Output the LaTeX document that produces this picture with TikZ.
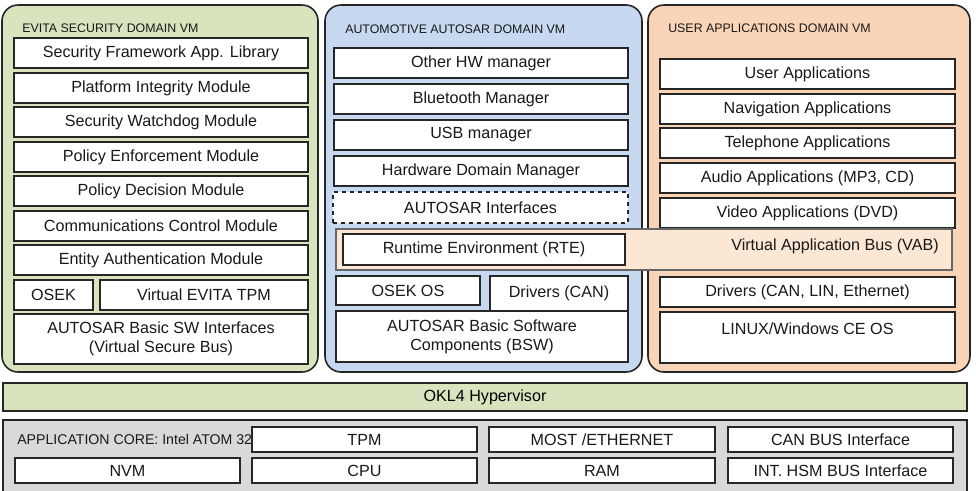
\documentclass[tikz,border=0pt]{standalone}
\usepackage{fontspec}
\setmainfont{Liberation Sans}
\definecolor{evgreen}{HTML}{D7E4BD}
\definecolor{aublue}{HTML}{C6D9F1}
\definecolor{usorange}{HTML}{FAD4B6}
\definecolor{bandor}{HTML}{FCE6D4}
\definecolor{hwgray}{HTML}{D9D9D9}
\definecolor{edge}{HTML}{262626}
\newcommand\bx[7]{\node[#1, anchor=north west, minimum width=#5*0.75pt, minimum height=#6*0.75pt] (#2) at (#3,#4) {#7};}
\begin{document}
\begin{tikzpicture}[x=0.75pt,y=-0.75pt,
  panel/.style={draw=edge, line width=1.2pt, rounded corners=12pt, inner sep=0pt, outer sep=0pt},
  box/.style={draw=edge, fill=white, line width=0.9pt, inner sep=0pt, outer sep=0pt, font=\fontsize{12.1}{14}\selectfont, text=black!90, align=center},
  dbox/.style={box, dashed},
  band/.style={draw=gray!80!black, fill=bandor, line width=0.9pt, inner sep=0pt, outer sep=0pt},
  flat/.style={draw=edge, line width=0.9pt, inner sep=0pt, outer sep=0pt, font=\fontsize{12.1}{14}\selectfont},
  hwbox/.style={box, font=\fontsize{12.1}{14}\selectfont},
  title/.style={font=\fontsize{9.3}{10}\selectfont, anchor=west, inner sep=0pt, text=black!90},
  plain/.style={font=\fontsize{12.1}{14}\selectfont, inner sep=0pt, text=black!90}]
\useasboundingbox (0,0) rectangle (976,490);
% panels
\bx{panel, fill=evgreen}{evita}{2}{5}{316}{367}{}
\bx{panel, fill=aublue}{autosar}{325}{5}{317}{367}{}
\bx{panel, fill=usorange}{user}{648}{5}{322}{367}{}
\node[title] (evitaT) at (22,28) {EVITA SECURITY DOMAIN VM};
\node[title] (autosarT) at (345,29) {AUTOMOTIVE AUTOSAR DOMAIN VM};
\node[title] (userT) at (668,28) {USER APPLICATIONS DOMAIN VM};
% EVITA column
\bx{box}{sfal}{14}{38}{294}{30}{Security Framework App. Library}
\bx{box}{pim}{14}{73}{294}{30}{Platform Integrity Module}
\bx{box}{swd}{14}{107}{294}{30}{Security Watchdog Module}
\bx{box}{pem}{14}{142}{294}{30}{Policy Enforcement Module}
\bx{box}{pdm}{14}{176}{294}{30}{Policy Decision Module}
\bx{box}{ccm}{14}{211}{294}{30}{Communications Control Module}
\bx{box}{eam}{14}{245}{294}{30}{Entity Authentication Module}
\bx{box}{osek}{14}{280}{79}{30}{OSEK}
\bx{box}{vtpm}{100}{280}{208}{30}{Virtual EVITA TPM}
\bx{box}{absw}{14}{314}{294}{50}{AUTOSAR Basic SW Interfaces\\(Virtual Secure Bus)}
% AUTOSAR column
\bx{box}{ohw}{334}{48}{294}{30}{Other HW manager}
\bx{box}{bt}{334}{84}{294}{30}{Bluetooth Manager}
\bx{box}{usb}{334}{120}{294}{30}{USB manager}
\bx{box}{hdm}{334}{156}{294}{30}{Hardware Domain Manager}
\bx{dbox}{ai}{333}{192}{295}{31}{AUTOSAR Interfaces}
% user column
\bx{box}{ua}{660}{59}{295}{30}{User Applications}
\bx{box}{nav}{660}{94}{295}{30}{Navigation Applications}
\bx{box}{tel}{660}{128}{295}{30}{Telephone Applications}
\bx{box}{aud}{660}{163}{295}{30}{Audio Applications (MP3, CD)}
\bx{box}{vid}{660}{198}{295}{30}{Video Applications (DVD)}
% band
\bx{band}{vabband}{336}{229}{616}{41}{}
\bx{box}{rte}{343}{234}{282}{31}{Runtime Environment (RTE)}
\node[plain] (vab) at (835,246) {Virtual Application Bus (VAB)};
\bx{box}{osekos}{336}{276}{144}{29}{OSEK OS}
\bx{box}{drvcan}{490}{276}{138}{35}{Drivers (CAN)}
\bx{box}{absc}{336}{311}{292}{51}{AUTOSAR Basic Software\\Components (BSW)}
\bx{box}{drvall}{660}{277}{295}{30}{Drivers (CAN, LIN, Ethernet)}
\bx{box, label={[plain, anchor=north, yshift=-8pt]north:LINUX/Windows CE OS}}{linux}{660}{312}{295}{51}{}
% hypervisor
\bx{flat, fill=evgreen}{hyp}{3}{383}{964}{28}{OKL4 Hypervisor}
% hardware
\bx{flat, fill=hwgray}{hw}{3}{420}{964}{80}{}
\node[font=\fontsize{10.6}{12}\selectfont, anchor=west, inner sep=0pt, text=black!90] (core) at (17,439) {APPLICATION CORE: Intel ATOM 32};
\bx{hwbox}{tpm}{252}{427}{225}{25}{TPM}
\bx{hwbox}{most}{489}{427}{226}{25}{MOST /ETHERNET}
\bx{hwbox}{can}{728}{427}{225}{25}{CAN BUS Interface}
\bx{hwbox}{nvm}{15}{458}{225}{25}{NVM}
\bx{hwbox}{cpu}{252}{458}{225}{25}{CPU}
\bx{hwbox}{ram}{489}{458}{226}{25}{RAM}
\bx{hwbox}{hsm}{728}{458}{225}{25}{INT. HSM BUS Interface}
\end{tikzpicture}
\end{document}
